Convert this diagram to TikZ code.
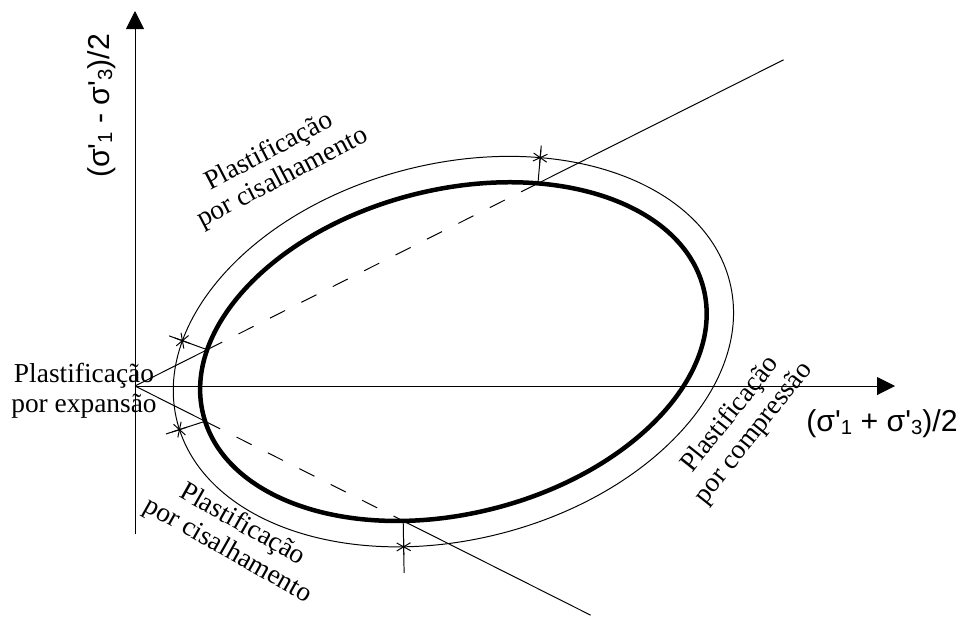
\documentclass[tikz,border=0pt]{standalone}
\usepackage{fontspec}
\setmainfont{Liberation Serif}
\newfontfamily\axisfont{Liberation Sans}[Ligatures=TeXOff]
\usetikzlibrary{arrows.meta, intersections}
\newcommand{\idx}[1]{\raisebox{-0.08em}{\fontsize{14.5}{14.5}\selectfont #1}}

\tikzset{
  yieldpt/.pic={\draw (90:0.2) -- (270:0.2) (30:0.2) -- (210:0.2) (150:0.2) -- (330:0.2);},
}

\begin{document}
\begin{tikzpicture}[line width=0.7pt,
    axis/.style={-{Triangle[length=4.5mm, width=4.5mm]}},
    secant/.style={dash pattern=on 12pt off 13pt},
    lbl/.style={align=center, font=\fontsize{19.5}{21}\selectfont},
    axlbl/.style={font=\axisfont\fontsize{21.5}{25}\selectfont}]
  \useasboundingbox (-3.375,-5.75) rectangle (20.825,9.65);

  % Axes
  \coordinate (O) at (0,0);
  \coordinate (ybot) at (0,-3.7);
  \coordinate (ytop) at (0,9.375);
  \coordinate (xend) at (19,0);
  \draw[axis] (ybot) -- (ytop);
  \draw[axis] (O) -- (xend);

  % Yield surfaces
  \coordinate (C) at (7.96,0.86);
  \draw[line width=3.2pt, name path=inner] (C) ellipse [x radius=6.45, y radius=4.05, rotate=14.2];
  \draw[name path=outer] (C) ellipse [x radius=7.125, y radius=4.7, rotate=14.2];

  % Lines through the origin
  \path[name path=up] (O) -- (26.7:18.15) coordinate (U);
  \path[name path=dn] (O) -- (-26.7:12.75) coordinate (D);
  \path[name intersections={of=up and inner, name=a, sort by=up}];
  \path[name intersections={of=dn and inner, name=b, sort by=dn}];
  \draw (O) -- (a-1);
  \draw[secant] (a-1) -- (a-2);
  \draw (a-2) -- (U);
  \draw (O) -- (b-1);
  \draw[secant] (b-1) -- (b-2);
  \draw (b-2) -- (D);

  % Normals and yield points
  \draw[name path=n1] (a-1) -- ++(160:1.01);
  \draw[name path=n2] (b-1) -- ++(198:1.03);
  \draw[name path=n3] (a-2) -- ++(85:0.95);
  \draw[name path=n4] (b-2) -- ++(271:1.3);
  \path[name intersections={of=n1 and outer, name=s1}];
  \path[name intersections={of=n2 and outer, name=s2}];
  \path[name intersections={of=n3 and outer, name=s3}];
  \path[name intersections={of=n4 and outer, name=s4}];
  \pic[rotate=70] at (s1-1) {yieldpt};
  \pic[rotate=108] at (s2-1) {yieldpt};
  \pic[rotate=-5] at (s3-1) {yieldpt};
  \pic[rotate=1] at (s4-1) {yieldpt};

  % Labels
  \node[lbl] (expansao) at (-1.275,-0.125) {Plastificação\\por expansão};
  \node[lbl, rotate=27.5] (cisup) at (3.525,5.525) {Plastificação\\por cisalhamento};
  \node[lbl, rotate=-29.5] (cisdn) at (2.5,-3.8) {Plastificação\\por cisalhamento};
  \node[lbl, rotate=51.5] (compr) at (15.175,-0.95) {Plastificação\\por compressão};
  \node[axlbl, rotate=90] (ylab) at (-0.825,7.0) {(σ'\idx{1} - σ'\idx{3})/2};
  \node[axlbl] (xlab) at (18.675,-0.95) {(σ'\idx{1} + σ'\idx{3})/2};
\end{tikzpicture}
\end{document}
